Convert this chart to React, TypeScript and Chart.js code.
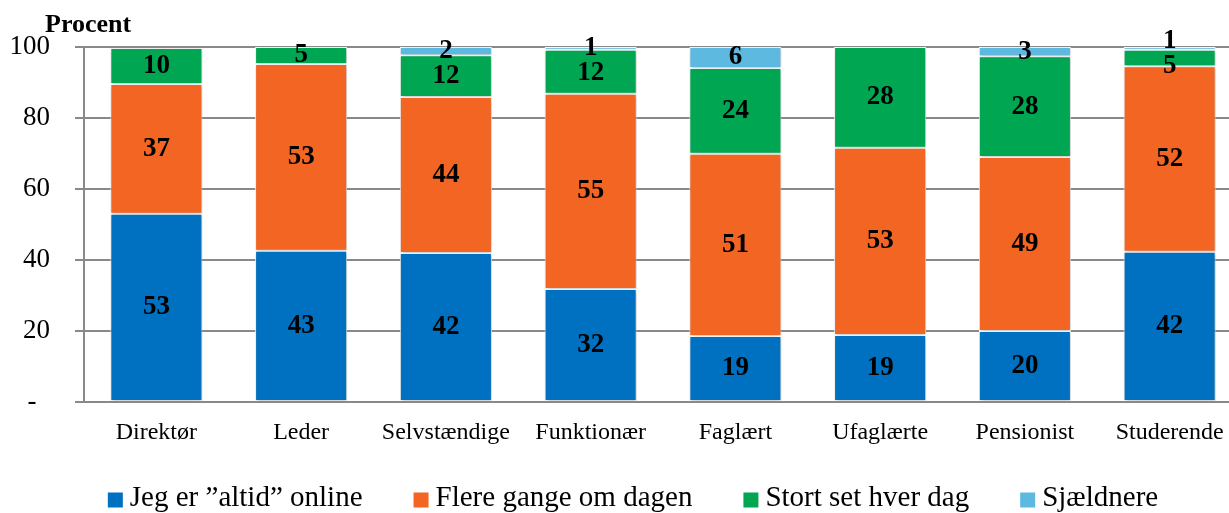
import React, { useEffect, useRef } from "react";
import { Chart, registerables } from "chart.js";

Chart.register(...registerables);

const categories = ["Direktør", "Leder", "Selvstændige", "Funktionær", "Faglært", "Ufaglærte", "Pensionist", "Studerende"];
const seriesNames = ["Jeg er ”altid” online", "Flere gange om dagen", "Stort set hver dag", "Sjældnere"];
const altidOnline = [53.0, 42.6, 42.0, 31.8, 18.6, 18.9, 20.0, 42.3];
const flereGange = [36.6, 52.6, 43.9, 55.0, 51.3, 52.7, 49.0, 52.3];
const stortSet = [10.1, 4.8, 11.8, 12.4, 24.2, 28.4, 28.4, 4.6];
const sjaeldnere = [0, 0, 2.3, 0.8, 5.9, 0, 2.6, 0.8];
const yTicks = [0, 20, 40, 60, 80, 100];
const yTitle = "Procent";
const colors = ["#0070C0", "#F26522", "#00A651", "#5EB9E1"];

const SERIF = "'Liberation Serif', 'Times New Roman', serif";

const shadowPlugin = {
  id: "barShadow",
  beforeDatasetsDraw(chart: any) {
    const ctx = chart.ctx;
    ctx.save();
    ctx.shadowColor = "rgba(0,0,0,0.28)";
    ctx.shadowBlur = 4;
    ctx.shadowOffsetX = 1;
    ctx.shadowOffsetY = 1;
  },
  afterDatasetsDraw(chart: any) {
    chart.ctx.restore();
  },
};

const labelPlugin = {
  id: "segLabels",
  afterDatasetsDraw(chart: any) {
    const ctx = chart.ctx;
    const n = chart.data.labels.length;
    ctx.save();
    ctx.font = `bold 27px ${SERIF}`;
    ctx.fillStyle = "#000";
    ctx.textAlign = "center";
    ctx.textBaseline = "middle";
    const minGap = 25;
    for (let i = 0; i < n; i++) {
      const items: { x: number; y: number; t: string }[] = [];
      chart.data.datasets.forEach((ds: any, di: number) => {
        const v = ds.data[i];
        if (!v || v < 0.5) return;
        const el = chart.getDatasetMeta(di).data[i];
        items.push({ x: el.x, y: (el.y + el.base) / 2, t: String(Math.round(v)) });
      });
      for (let iter = 0; iter < 5; iter++) {
        for (let k = 1; k < items.length; k++) {
          const lower = items[k - 1];
          const upper = items[k];
          const d = lower.y - upper.y;
          if (d < minGap) {
            const push = (minGap - d) / 2;
            lower.y += push;
            upper.y -= push;
          }
        }
      }
      items.forEach((it) => ctx.fillText(it.t, it.x, it.y));
    }
    ctx.restore();
  },
};

const titlePlugin = {
  id: "axisTitleTop",
  afterDraw(chart: any) {
    const ctx = chart.ctx;
    const a = chart.chartArea;
    ctx.save();
    ctx.font = `bold 26px ${SERIF}`;
    ctx.fillStyle = "#000";
    ctx.textAlign = "left";
    ctx.textBaseline = "alphabetic";
    ctx.fillText(yTitle, a.left - 39, a.top - 15);
    ctx.restore();
  },
};

// legend drawn from the dataset labels/colours
const legendPlugin = {
  id: "bottomLegend",
  afterDraw(chart: any) {
    const ctx = chart.ctx;
    const box = 15;
    const textGap = 7;
    const itemGap = 51;
    const centerX = 633;
    const centerY = 498;
    ctx.save();
    ctx.font = `29px ${SERIF}`;
    ctx.textBaseline = "middle";
    ctx.textAlign = "left";
    const ds = chart.data.datasets;
    const widths = ds.map((d: any) => box + textGap + ctx.measureText(d.label).width);
    const total = widths.reduce((a: number, b: number) => a + b, 0) + itemGap * (ds.length - 1);
    let x = centerX - total / 2;
    ds.forEach((d: any, i: number) => {
      ctx.fillStyle = d.backgroundColor;
      ctx.fillRect(x, centerY + 2 - box / 2, box, box);
      ctx.fillStyle = "#000";
      ctx.fillText(d.label, x + box + textGap, centerY);
      x += widths[i] + itemGap;
    });
    ctx.restore();
  },
};

export default function App() {
  const ref = useRef<HTMLCanvasElement | null>(null);
  useEffect(() => {
    if (!ref.current) return;
    const series = [altidOnline, flereGange, stortSet, sjaeldnere];
    const chart = new Chart(ref.current, {
      type: "bar",
      data: {
        labels: categories,
        datasets: series.map((d, i) => ({
          label: seriesNames[i],
          data: d,
          backgroundColor: colors[i],
          borderColor: "#ffffff",
          borderWidth: 1,
          borderSkipped: false,
          categoryPercentage: 1,
          barPercentage: 0.636,
        })),
      },
      options: {
        responsive: false,
        animation: false,
        layout: { padding: { top: 47, left: 0, right: 24, bottom: 61 } },
        plugins: {
          legend: { display: false },
          tooltip: { enabled: false },
          title: { display: false },
        },
        scales: {
          x: {
            stacked: true,
            grid: { display: false, drawTicks: false },
            border: { display: false },
            ticks: {
              font: { family: SERIF, size: 24 },
              color: "#000",
              padding: 16,
              maxRotation: 0,
              autoSkip: false,
            },
            afterFit(scale: any) {
              scale.height = 50;
            },
          },
          y: {
            stacked: true,
            min: 0,
            max: 100,
            afterBuildTicks(scale: any) {
              scale.ticks = yTicks.map((v) => ({ value: v }));
            },
            grid: { color: "#898989", lineWidth: 2, tickLength: 9, drawTicks: true },
            border: { display: true, color: "#898989", width: 2 },
            ticks: {
              font: { family: SERIF, size: 27 },
              color: "#000",
              padding: 25,
              callback: (v: any) => (v === 0 ? "-  " : String(v)),
            },
            afterFit(scale: any) {
              scale.width = 84;
            },
          },
        },
      },
      plugins: [shadowPlugin, labelPlugin, titlePlugin, legendPlugin],
    });
    return () => chart.destroy();
  }, []);

  return (
    <div style={{ position: "absolute", left: 0, top: 0, width: 1229, height: 513, overflow: "hidden", background: "#fff" }}>
      <canvas ref={ref} width={1266} height={513} style={{ display: "block" }} />
    </div>
  );
}
